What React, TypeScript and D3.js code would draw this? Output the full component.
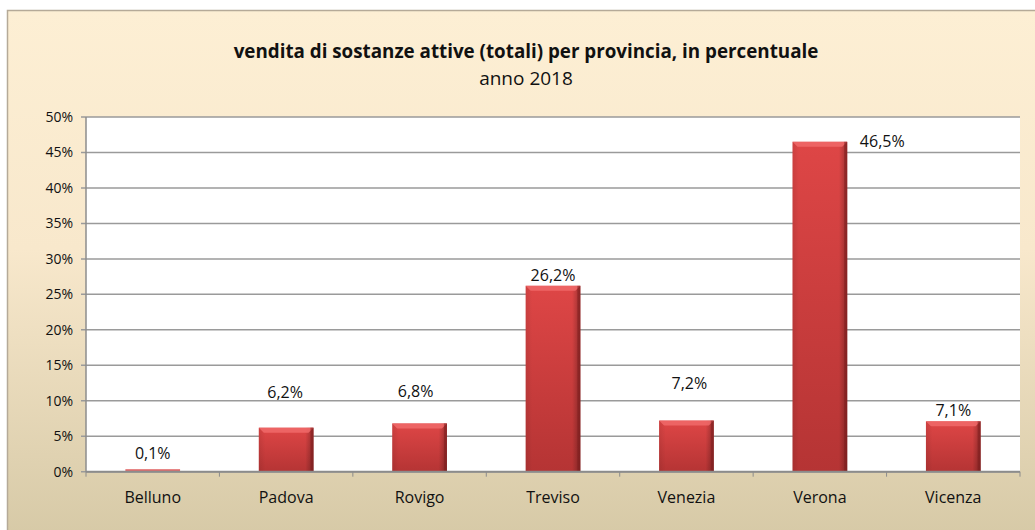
import React from "react";
import * as d3 from "d3";

const categories = ["Belluno", "Padova", "Rovigo", "Treviso", "Venezia", "Verona", "Vicenza"];
const values = [0.1, 6.2, 6.8, 26.2, 7.2, 46.5, 7.1];
const yTicks = [0, 5, 10, 15, 20, 25, 30, 35, 40, 45, 50];
const valueLabels = ["0,1%", "6,2%", "6,8%", "26,2%", "7,2%", "46,5%", "7,1%"];
const titleText = "vendita di sostanze attive (totali) per provincia, in percentuale";
const subtitleText = "anno 2018";

// manual label offsets (layout, px) as placed in the original chart
const labelDx = [0, -1, -4, 0, 3, 63, 0];
const labelDy = [-7, -25, -21, 0, -27, 10, 0];

const W = 1035;
const H = 530;
const plot = { left: 86, right: 1020, top: 117, bottom: 471.7 };
const FONT = "'Open Sans', Lato, 'DejaVu Sans', sans-serif";

export default function App() {
  const x = d3.scaleBand<string>().domain(categories).range([plot.left, plot.right]).paddingInner(0.59).paddingOuter(0.295);
  const band = d3.scaleBand<string>().domain(categories).range([plot.left, plot.right]);
  const y = d3.scaleLinear().domain([0, 50]).range([plot.bottom, plot.top]);
  const bw = x.bandwidth();

  return (
    <svg width={W} height={H} style={{ position: "absolute", left: 0, top: 0 }} fontFamily={FONT}>
      <defs>
        <linearGradient id="bg" x1="0" y1="0" x2="0" y2="1">
          <stop offset="0" stopColor="#FDEFD4" />
          <stop offset="0.45" stopColor="#F8E8CC" />
          <stop offset="1" stopColor="#D6C9A6" />
        </linearGradient>
        <linearGradient id="barFill" x1="0" y1="0" x2="0" y2="1">
          <stop offset="0" stopColor="#DE4646" />
          <stop offset="1" stopColor="#B53434" />
        </linearGradient>
        <linearGradient id="barSide" x1="0" y1="0" x2="1" y2="0">
          <stop offset="0" stopColor="#000" stopOpacity="0.08" />
          <stop offset="0.12" stopColor="#000" stopOpacity="0" />
          <stop offset="0.85" stopColor="#000" stopOpacity="0" />
          <stop offset="1" stopColor="#000" stopOpacity="0.3" />
        </linearGradient>
      </defs>
      <rect x={7.5} y={10.5} width={W} height={H} fill="url(#bg)" stroke="#B5AA98" strokeWidth={1.5} />
      <rect x={plot.left} y={plot.top} width={plot.right - plot.left} height={plot.bottom - plot.top} fill="#FFFFFF" />
      <text x={526} y={58} textAnchor="middle" fontWeight="bold" fontSize={18.8} fill="#111">{titleText}</text>
      <text x={526} y={85} textAnchor="middle" fontSize={19} fill="#111">{subtitleText}</text>
      {yTicks.map((t) => (
        <g key={t}>
          <line x1={plot.left - 5} x2={plot.right} y1={y(t)} y2={y(t)} stroke="#9A9A9A" strokeWidth={1.5} />
          <text x={73} y={y(t) + 5} textAnchor="end" fontSize={14} fill="#111">{t}%</text>
        </g>
      ))}
      {categories.map((c, i) => {
        const top = y(values[i]);
        const x0 = x(c)!;
        const h = plot.bottom - top;
        const bev = Math.min(5, h / 2);
        return (
          <g key={c}>
            <rect x={x0} y={top} width={bw} height={h} fill="url(#barFill)" />
            <rect x={x0} y={top} width={bw} height={h} fill="url(#barSide)" />
            {h > 4 ? (
              <polygon
                points={`${x0},${top} ${x0 + bw},${top} ${x0 + bw - 5},${top + bev} ${x0 + 5},${top + bev}`}
                fill="#F06A6A"
                opacity={0.85}
              />
            ) : (
              <rect x={x0} y={top - 1.8} width={bw} height={2} fill="#E26A6A" />
            )}
            {h > 4 && (
              <rect x={x0 + bw - 3} y={top} width={3} height={h} fill="#7E1E1E" opacity={0.55} />
            )}
            <text
              x={x0 + bw / 2 + labelDx[i]}
              y={top - 5 + labelDy[i]}
              textAnchor={i === 5 ? "start" : "middle"}
              dx={i === 5 ? -23 : 0}
              fontSize={16}
              fill="#111"
            >
              {valueLabels[i]}
            </text>
            <text x={band(c)! + band.bandwidth() / 2} y={503} textAnchor="middle" fontSize={16} fill="#111">{c}</text>
          </g>
        );
      })}
      <line x1={plot.left} x2={plot.right} y1={plot.bottom} y2={plot.bottom} stroke="#8C8C8C" strokeWidth={2} />
      {[...categories.map((c) => band(c)!), plot.right].map((bx, i) => (
        <line key={i} x1={bx} x2={bx} y1={plot.bottom} y2={plot.bottom + 5} stroke="#8C8C8C" strokeWidth={1} />
      ))}
      <line x1={plot.left} x2={plot.left} y1={plot.top} y2={plot.bottom} stroke="#8C8C8C" strokeWidth={1.5} />
    </svg>
  );
}
